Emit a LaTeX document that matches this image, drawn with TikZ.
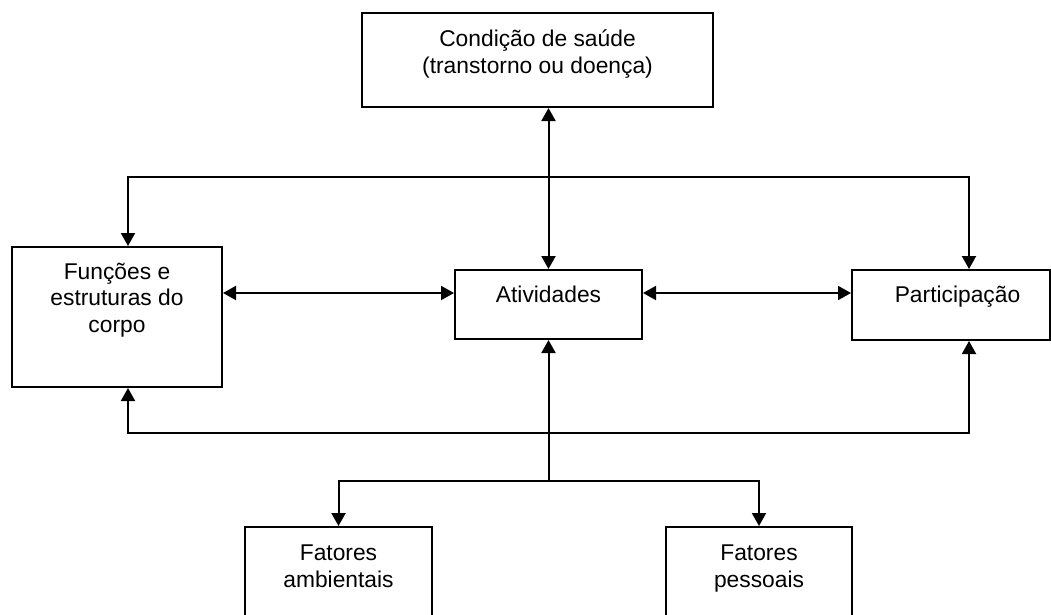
\documentclass[tikz,border=0pt]{standalone}
\usepackage{fontspec}
\setmainfont{Liberation Sans}
\usetikzlibrary{arrows.meta}
\begin{document}
\begin{tikzpicture}[x=1pt,y=-1pt,
  >={Triangle[length=13pt,width=14pt]},
  box/.style={draw, line width=2pt, inner sep=0pt},
  lbl/.style={anchor=base, align=center, inner sep=0pt,
    font=\fontsize{22.8}{26.5}\selectfont},
  conn/.style={line width=2pt}]
\useasboundingbox (0,0) rectangle (1051,614);
\clip (0,0) rectangle (1051,614);
% boxes
\node[box, minimum width=351pt, minimum height=94pt] (cond) at (537.5,60) {};
\node[box, minimum width=210pt, minimum height=140pt] (body) at (117,317) {};
\node[box, minimum width=187pt, minimum height=69pt] (ativ) at (548.5,304.5) {};
\node[box, minimum width=198pt, minimum height=70pt] (part) at (951,305) {};
\node[box, minimum width=187pt, minimum height=133pt] (amb) at (338.5,593.5) {};
\node[box, minimum width=186pt, minimum height=133pt] (pess) at (759,593.5) {};
% texts (base anchor = baseline of the last line)
\node[lbl] (condt) at (537.5,73) {Condição de saúde\\(transtorno ou doença)};
\node[lbl] (bodyt) at (117,332) {Funções e\\estruturas do\\corpo};
\node[lbl] (ativt) at (548.5,302) {Atividades};
\node[lbl] (partt) at (957.5,302) {Participação};
\node[lbl] (ambt) at (338.5,587) {Fatores\\ambientais};
\node[lbl] (pesst) at (759,587) {Fatores\\pessoais};
% bus coordinates
\coordinate (tl) at (128,177);
\coordinate (tr) at (969,177);
\coordinate (bl) at (128,433);
\coordinate (br) at (969,433);
\coordinate (hl) at (338.5,481);
\coordinate (hr) at (759,481);
\coordinate (hc) at (548.5,481);
\coordinate (ml) at (0,293);
% connectors
\draw[conn,<->] (ativ.north |- cond.south) -- (ativ.north);
\draw[conn,<->] (body.north -| tl) -- (tl) -- (tr) -- (part.north -| tr);
\draw[conn,<->] (body.south -| bl) -- (bl) -- (br) -- (part.south -| br);
\draw[conn,->] (hc) -- (ativ.south);
\draw[conn,<->] (amb.north) -- (hl) -- (hr) -- (pess.north);
\draw[conn,<->] (body.east |- ml) -- (ativ.west |- ml);
\draw[conn,<->] (ativ.east |- ml) -- (part.west |- ml);
\end{tikzpicture}
\end{document}
